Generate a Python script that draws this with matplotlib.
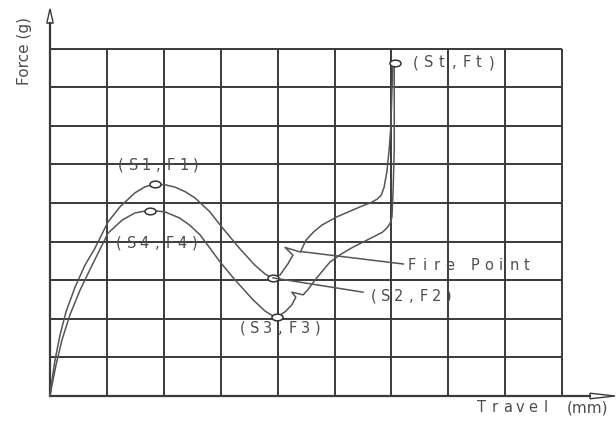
import numpy as np
import matplotlib.pyplot as plt
from matplotlib.path import Path
from matplotlib.patches import Polygon

# travel / force in grid divisions (9 x 9 grid)
# forward stroke: up to (S1,F1), down to (S2,F2), fire point kink, up to (St,Ft)
fwd_travel = [0.00, 0.035, 0.088, 0.176, 0.281, 0.44, 0.615, 0.79, 1.02, 1.23,
              1.49, 1.67, 1.85, 2.03, 2.20, 2.38, 2.55, 2.81, 2.99, 3.17,
              3.34, 3.60, 3.78, 3.90, 4.04, 4.18, 4.27, 4.13, 4.40, 4.50,
              4.64, 4.78, 5.04, 5.45, 5.64, 5.75, 5.82, 5.87, 5.92, 5.96,
              5.99, 6.01, 6.03]
fwd_force = [0.00, 0.41, 0.93, 1.58, 2.18, 2.82, 3.39, 3.83, 4.51, 4.90,
             5.26, 5.42, 5.49, 5.47, 5.41, 5.29, 5.13, 4.77, 4.43, 4.11,
             3.81, 3.39, 3.16, 3.06, 3.13, 3.42, 3.65, 3.85, 3.73, 4.04,
             4.26, 4.43, 4.64, 4.90, 5.01, 5.10, 5.20, 5.40, 5.80, 6.37,
             6.97, 7.93, 8.63]

# return stroke: (S4,F4) peak and (S3,F3) valley
ret_travel = [0.00, 0.035, 0.105, 0.21, 0.35, 0.53, 0.74, 1.02, 1.27, 1.49,
              1.62, 1.76, 1.90, 2.02, 2.28, 2.46, 2.64, 2.99, 3.25, 3.57,
              3.78, 3.90, 3.99, 4.13, 4.25, 4.32, 4.25, 4.45, 4.53, 4.66,
              4.92, 5.12, 5.33, 5.68, 5.84, 5.92, 5.98, 6.01, 6.03, 6.05,
              6.05, 6.05]
ret_force = [0.00, 0.28, 0.80, 1.45, 2.10, 2.75, 3.39, 4.22, 4.56, 4.74,
             4.78, 4.79, 4.79, 4.77, 4.61, 4.42, 4.17, 3.47, 3.01, 2.49,
             2.20, 2.09, 2.05, 2.18, 2.36, 2.56, 2.69, 2.62, 2.75, 3.01,
             3.47, 3.68, 3.86, 4.12, 4.24, 4.35, 4.48, 4.64, 5.34, 6.37,
             7.67, 8.58]

key_names = ["(S1,F1)", "(S4,F4)", "(S2,F2)", "(S3,F3)", "(St,Ft)"]
key_travel = [1.85, 1.76, 3.92, 3.99, 6.06]
key_force = [5.49, 4.79, 3.06, 2.05, 8.63]

fire_point = (4.42, 3.74)

# pixel scale of one grid division
px_x = 56.9
px_y = 38.6

GRID = "#3a3a3a"
CURVE = "#555555"
TEXT = "#4d4d4d"


def spaced_text(ax, x, y, s, step=12.6, size=10.5):
    # CAD style lettering: fixed advance per character
    for i, ch in enumerate(s):
        ax.annotate(ch, (x, y), xytext=((i + 0.5) * step, 0), textcoords="offset pixels",
                    ha="center", va="center", fontsize=size, color=TEXT,
                    family="DejaVu Sans", annotation_clip=False)


fig = plt.figure(figsize=(6.16, 4.21), dpi=100)
ax = fig.add_axes([0, 0, 1, 1])
ax.set_xlim(-50 / px_x, 566 / px_x)
ax.set_ylim(-25 / px_y, 396 / px_y)
ax.axis("off")

# grid
ax.vlines(np.arange(1, 10), 0, 9, color=GRID, lw=1.4)
ax.hlines(np.arange(1, 10), 0, 9, color=GRID, lw=1.4)

# axes with open arrow heads
ax.plot([0, 0], [0, 9.66], color=GRID, lw=1.6)
ax.plot([0, 9.49], [0, 0], color=GRID, lw=1.6)
ax.add_patch(Polygon([[-3.2 / px_x, 9.66], [3.2 / px_x, 9.66], [0, 10.03]], closed=True,
                     facecolor="white", edgecolor=GRID, lw=1.0))
ax.add_patch(Polygon([[9.49, -2.8 / px_y], [9.49, 2.8 / px_y], [9.93, 0]], closed=True,
                     facecolor="white", edgecolor=GRID, lw=1.0))

ax.text(-25 / px_x, 8.93, "Force (g)", rotation=90, ha="center", va="center",
        fontsize=11, color=TEXT)
spaced_text(ax, 7.48, -0.31, "Travel", step=12.7)
ax.text(9.09, -0.31, "(mm)", ha="left", va="center", fontsize=11, color=TEXT)

# curves
ax.plot(fwd_travel, fwd_force, color=CURVE, lw=1.1, solid_joinstyle="round")
ax.plot(ret_travel, ret_force, color=CURVE, lw=1.1, solid_joinstyle="round")

# key points as small flat ellipses
circ = Path.unit_circle()
ellipse = Path(circ.vertices * [1.0, 0.6], circ.codes)
ax.plot(key_travel, key_force, ls="none", marker=ellipse, ms=8, mfc="white",
        mec="#333333", mew=1.1)

# labels
spaced_text(ax, key_travel[0] - 0.72, key_force[0] + 0.49, key_names[0])
spaced_text(ax, key_travel[1] - 0.66, key_force[1] - 0.83, key_names[1])
spaced_text(ax, key_travel[2] + 1.65, key_force[2] - 0.47, key_names[2])
spaced_text(ax, key_travel[3] - 0.72, key_force[3] - 0.29, key_names[3])
spaced_text(ax, key_travel[4] + 0.26, key_force[4], key_names[4])
spaced_text(ax, 6.24, 3.37, "Fire Point", step=12.8)

# leader lines
ax.plot([fire_point[0], 6.21], [fire_point[1], 3.42], color=CURVE, lw=1.1)
ax.plot([key_travel[2], 5.50], [key_force[2], 2.69], color=CURVE, lw=1.1)

fig.savefig("out.png", dpi=100)
